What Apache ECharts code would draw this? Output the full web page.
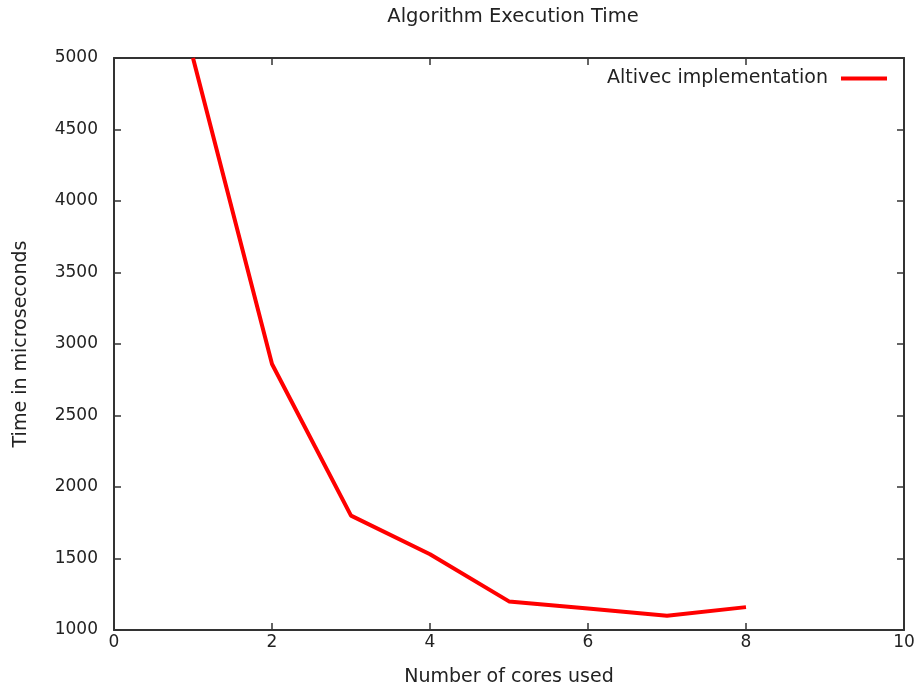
<!DOCTYPE html>
<html>
<head>
<meta charset="utf-8">
<script src="https://cdn.jsdelivr.net/npm/echarts@6/dist/echarts.min.js"></script>
<style>html,body{margin:0;padding:0;background:#fff}#c{width:916px;height:686px}</style>
</head>
<body>
<div id="c"></div>
<script>
const cores = [1, 2, 3, 4, 5, 6, 7, 8];
const timeAltivec = [5000, 2860, 1800, 1530, 1200, 1150, 1100, 1160];
const seriesName = 'Altivec implementation';
const chartTitle = 'Algorithm Execution Time';
const xName = 'Number of cores used';
const yName = 'Time in microseconds';

const FONT = 'DejaVu Sans';
const TXT = '#222';
const chart = echarts.init(document.getElementById('c'));
function axLine() { return { show: true, onZero: false, lineStyle: { color: '#333', width: 2 } }; }
function tick() { return { show: true, inside: true, length: 7, lineStyle: { color: '#333', width: 1.5 } }; }
chart.setOption({
  animation: false,
  backgroundColor: '#fff',
  title: { text: chartTitle, left: 508, top: 2, textAlign: 'center',
    textStyle: { fontFamily: FONT, fontSize: 19.5, fontWeight: 'normal', color: TXT } },
  legend: { right: 29, top: 69, padding: 0, align: 'right', itemWidth: 46, itemHeight: 4, itemGap: 10,
    icon: 'rect',
    textStyle: { fontFamily: FONT, fontSize: 19, color: TXT, padding: [0, 8, 0, 0] },
    data: [seriesName] },
  grid: { left: 114, right: 12, top: 58, bottom: 56, containLabel: false, outerBoundsMode: 'none' },
  xAxis: [
    { type: 'value', min: 0, max: 10, interval: 2, position: 'bottom',
      name: xName, nameLocation: 'middle', nameGap: 38,
      nameTextStyle: { fontFamily: FONT, fontSize: 19, color: TXT },
      axisLine: axLine(), axisTick: tick(), splitLine: { show: false },
      axisLabel: { fontFamily: FONT, fontSize: 17, color: TXT, margin: 4,
        formatter: v => String(v) } },
    { type: 'value', min: 0, max: 10, interval: 2, position: 'top',
      axisLine: axLine(), axisTick: tick(), splitLine: { show: false },
      axisLabel: { show: false } }
  ],
  yAxis: [
    { type: 'value', min: 1000, max: 5000, interval: 500, position: 'left',
      name: yName, nameLocation: 'middle', nameGap: 83,
      nameTextStyle: { fontFamily: FONT, fontSize: 19, color: TXT },
      axisLine: axLine(), axisTick: tick(), splitLine: { show: false },
      axisLabel: { fontFamily: FONT, fontSize: 17, color: TXT, margin: 16,
        formatter: v => String(v) } },
    { type: 'value', min: 1000, max: 5000, interval: 500, position: 'right',
      axisLine: axLine(), axisTick: tick(), splitLine: { show: false },
      axisLabel: { show: false } }
  ],
  series: [{
    name: seriesName, type: 'line', xAxisIndex: 0, yAxisIndex: 0,
    data: cores.map((c, i) => [c, timeAltivec[i]]),
    showSymbol: false, symbol: 'none',
    lineStyle: { color: '#ff0000', width: 4 }, itemStyle: { color: '#ff0000' },
    clip: true
  }]
});
</script>
</body>
</html>
